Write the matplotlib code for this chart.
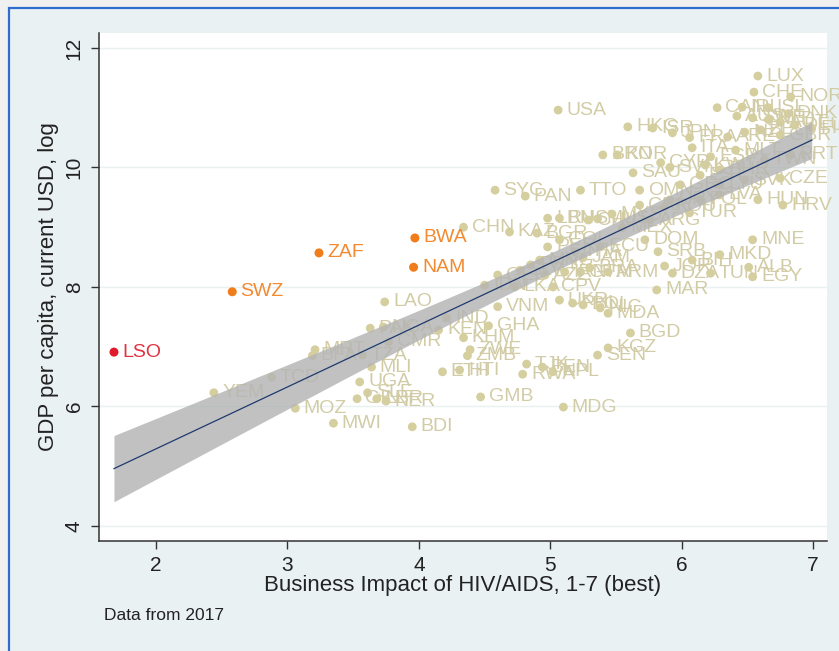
import matplotlib
matplotlib.use("Agg")
import matplotlib.pyplot as plt
from matplotlib.patches import Rectangle
import numpy as np

plt.rcParams['font.family'] = ['Liberation Sans', 'DejaVu Sans']

BEIGE = '#D5CE9E'
BEIGE_TXT = '#D2CCA6'
ORANGE = '#F07D1A'
RED = '#E01B2B'
BAND = '#B4B4B4'
NAVY = '#1F3A6E'

# country code, business impact score (1-7), log GDP per capita
codes = [
    'LSO', 'SWZ', 'ZAF', 'BWA', 'NAM', 'LUX', 'CHE', 'NOR', 'USA', 'CAN',
    'IRL', 'ISL', 'DNK', 'AUS', 'SWE', 'NLD', 'AUT', 'DEU', 'FIN', 'BEL',
    'NZL', 'GBR', 'ARE', 'HKG', 'ISR', 'JPN', 'FRA', 'ITA', 'ESP', 'MLT',
    'PRT', 'TWN', 'KWT', 'BHR', 'BRN', 'KOR', 'SAU', 'CYP', 'SVN', 'EST',
    'LTU', 'SVK', 'CZE', 'GRC', 'OMN', 'TTO', 'SYC', 'PAN', 'HUN', 'HRV',
    'POL', 'LVA', 'URY', 'CRI', 'ROU', 'TUR', 'ARG', 'MUS', 'LBN', 'RUS',
    'CHL', 'MYS', 'MEX', 'CHN', 'KAZ', 'BGR', 'DOM', 'ECU', 'PER', 'COL',
    'THA', 'JAM', 'GTM', 'ARM', 'AZE', 'IRN', 'BRA', 'SRB', 'JOR', 'BIH',
    'DZA', 'TUN', 'ALB', 'EGY', 'MNE', 'MKD', 'MAR', 'CPV', 'UKR', 'PHL',
    'BOL', 'NIC', 'MDA', 'BGD', 'KGZ', 'SEN', 'MDG', 'GMB', 'TJK', 'RWA',
    'BEN', 'NPL', 'HTI', 'ETH', 'ZWE', 'ZMB', 'KHM', 'KEN', 'GHA', 'IND',
    'VNM', 'LAO', 'CMR', 'MLI', 'UGA', 'SLE', 'GIN', 'LBR', 'NER', 'MOZ',
    'MWI', 'BDI', 'TZA', 'MRT', 'BFA', 'TCD', 'YEM', 'PAK', 'NGA', 'GEO',
    'IDN', 'LKA', 'PRY', 'SLV', 'MNG',
]
impact = [
    1.68, 2.58, 3.24, 3.97, 3.96, 6.58, 6.55, 6.83, 5.06, 6.27,
    6.46, 6.66, 6.81, 6.42, 6.54, 6.66, 6.75, 6.86, 6.99, 6.60,
    6.48, 6.75, 6.35, 5.59, 5.78, 5.93, 6.06, 6.08, 6.22, 6.41,
    6.83, 6.63, 6.18, 6.29, 5.40, 5.51, 5.63, 5.84, 5.91, 6.14,
    6.29, 6.48, 6.75, 5.99, 5.68, 5.23, 4.58, 4.81, 6.58, 6.77,
    6.14, 6.29, 5.91, 5.68, 5.87, 6.06, 5.76, 5.36, 4.98, 5.07,
    5.29, 5.47, 5.55, 4.34, 4.69, 4.90, 5.72, 5.38, 4.98, 5.07,
    5.19, 5.25, 5.23, 5.44, 4.96, 5.11, 5.30, 5.82, 5.87, 6.08,
    5.93, 6.22, 6.51, 6.54, 6.54, 6.29, 5.81, 5.02, 5.07, 5.17,
    5.25, 5.38, 5.44, 5.61, 5.44, 5.36, 5.10, 4.47, 4.82, 4.79,
    4.94, 5.02, 4.31, 4.18, 4.39, 4.37, 4.34, 4.15, 4.53, 4.21,
    4.60, 3.74, 3.77, 3.64, 3.55, 3.61, 3.53, 3.68, 3.75, 3.06,
    3.35, 3.95, 3.57, 3.21, 3.19, 2.88, 2.44, 3.63, 3.73, 4.60,
    4.50, 4.73, 4.85, 4.77, 4.92,
]
log_gdp = [
    6.91, 7.92, 8.57, 8.82, 8.33, 11.53, 11.26, 11.18, 10.96, 11.00,
    11.01, 11.00, 10.90, 10.86, 10.83, 10.80, 10.76, 10.71, 10.66, 10.63,
    10.59, 10.54, 10.51, 10.68, 10.66, 10.58, 10.50, 10.33, 10.18, 10.29,
    10.21, 10.13, 10.04, 9.96, 10.21, 10.21, 9.91, 10.08, 10.00, 9.87,
    9.71, 9.79, 9.82, 9.71, 9.62, 9.62, 9.62, 9.52, 9.46, 9.37,
    9.46, 9.54, 9.46, 9.37, 9.34, 9.24, 9.12, 9.14, 9.15, 9.15,
    9.12, 9.22, 8.99, 9.00, 8.92, 8.90, 8.79, 8.67, 8.67, 8.79,
    8.59, 8.49, 8.25, 8.25, 8.20, 8.25, 8.32, 8.59, 8.35, 8.45,
    8.23, 8.23, 8.33, 8.17, 8.79, 8.54, 7.95, 8.00, 7.78, 7.73,
    7.70, 7.65, 7.56, 7.23, 6.98, 6.86, 5.99, 6.16, 6.71, 6.54,
    6.66, 6.58, 6.61, 6.58, 6.95, 6.85, 7.15, 7.28, 7.35, 7.48,
    7.67, 7.75, 7.08, 6.66, 6.41, 6.23, 6.13, 6.13, 6.09, 5.97,
    5.72, 5.66, 6.86, 6.95, 6.85, 6.49, 6.23, 7.31, 7.33, 8.20,
    8.03, 8.00, 8.37, 8.28, 8.45,
]

# countries singled out in colour
highlight = {'LSO': RED, 'SWZ': ORANGE, 'ZAF': ORANGE, 'BWA': ORANGE, 'NAM': ORANGE}

x = np.array(impact)
y = np.array(log_gdp)

fig = plt.figure(figsize=(8.39, 6.51), dpi=100)
fig.patch.set_facecolor('#F0F0F0')
fig.patches.append(Rectangle((9 / 839, -0.01), 1.0, 643 / 651 + 0.01,
                             transform=fig.transFigure, facecolor='#EAF1F3',
                             edgecolor='#2E6CCF', linewidth=1.6, zorder=-10))

ax = fig.add_axes([99 / 839, 1 - 541 / 651, 728 / 839, 508 / 651])
ax.set_facecolor('white')

# plain points with labels
for c, xi, yi in zip(codes, x, y):
    if c in highlight:
        continue
    ax.scatter(xi, yi, s=40, color=BEIGE, edgecolors='none', zorder=2)
    ax.annotate(c, (xi, yi), xytext=(6, 0), textcoords='offset points',
                ha='left', va='center', fontsize=14, color=BEIGE_TXT,
                zorder=2, annotation_clip=False)

# linear fit with 95% confidence band
n = len(x)
slope, intercept = np.polyfit(x, y, 1)
resid = y - (intercept + slope * x)
s = np.sqrt(np.sum(resid ** 2) / (n - 2))
sxx = np.sum((x - x.mean()) ** 2)
grid = np.linspace(x.min(), x.max(), 200)
fit = intercept + slope * grid
half = 1.979 * s * np.sqrt(1 / n + (grid - x.mean()) ** 2 / sxx)
ax.fill_between(grid, fit - half, fit + half, color=BAND, alpha=0.82,
                linewidth=0, zorder=3)
ax.plot(grid, fit, color=NAVY, linewidth=0.9, zorder=4)

# highlighted countries on top
for c, xi, yi in zip(codes, x, y):
    if c not in highlight:
        continue
    col = highlight[c]
    ax.scatter(xi, yi, s=42, color=col, edgecolors='none', zorder=5)
    ax.annotate(c, (xi, yi), xytext=(6, 0), textcoords='offset points',
                ha='left', va='center', fontsize=14, color=col, alpha=0.9,
                zorder=5)

ax.set_xlim(1.566, 7.106)
ax.set_ylim(3.749, 12.25)
ax.set_xticks([2, 3, 4, 5, 6, 7])
ax.set_yticks([4, 6, 8, 10, 12])
for yv in [4, 6, 8, 10, 12]:
    ax.axhline(yv, color='#EAF1F3', linewidth=1.0, zorder=0)

for side in ['top', 'right']:
    ax.spines[side].set_visible(False)
for side in ['left', 'bottom']:
    ax.spines[side].set_color('#333333')
    ax.spines[side].set_linewidth(1.1)

ax.tick_params(axis='both', direction='out', length=6, width=1.0,
               color='#333333', labelsize=15, labelcolor='#222222', pad=5)
ax.tick_params(axis='y', labelrotation=90)
for lbl in ax.get_yticklabels():
    lbl.set_va('center')

ax.set_xlabel('Business Impact of HIV/AIDS, 1-7 (best)', fontsize=16,
              color='#222222', labelpad=0)
ax.set_ylabel('GDP per capita, current USD, log', fontsize=16,
              color='#222222', labelpad=4)

fig.text(104 / 839, 1 - 615 / 651, 'Data from 2017', fontsize=12.5,
         color='#222222', ha='left', va='center')

fig.savefig('out.png', dpi=100, facecolor=fig.get_facecolor())
